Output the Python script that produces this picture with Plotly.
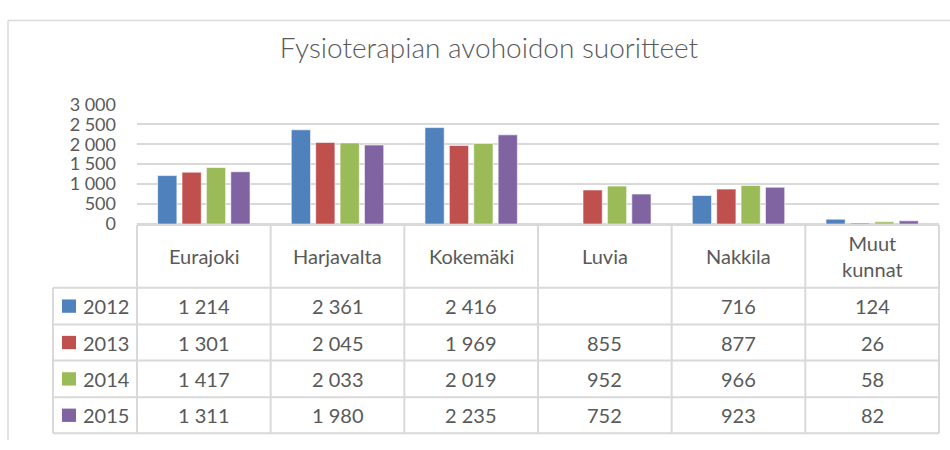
import plotly.graph_objects as go

categories = ["Eurajoki", "Harjavalta", "Kokemäki", "Luvia", "Nakkila", "Muut kunnat"]
category_labels = ["Eurajoki", "Harjavalta", "Kokemäki", "Luvia", "Nakkila", "Muut<br>kunnat"]
years = ["2012", "2013", "2014", "2015"]
v2012 = [1214, 2361, 2416, None, 716, 124]
v2013 = [1301, 2045, 1969, 855, 877, 26]
v2014 = [1417, 2033, 2019, 952, 966, 58]
v2015 = [1311, 1980, 2235, 752, 923, 82]
series = [v2012, v2013, v2014, v2015]
colors = ["#4F81BD", "#C0504D", "#9BBB59", "#8064A2"]
yticks = [0, 500, 1000, 1500, 2000, 2500, 3000]

W, H = 950, 450
FONT = "Lato"
TXT = "#595959"
GRID = "#D9D9D9"

def px(x):
    return x / W

def py(y):
    return 1 - y / H

def fmt(v):
    return "" if v is None else f"{v:,}".replace(",", " ")

x0, x1 = 137, 939
y_zero, y_top = 223, 97
col_w = (x1 - x0) / len(categories)
rows_y = [290, 328.5, 366.5, 405, 443]
leg_x = 53

fig = go.Figure()
for name, vals, c in zip(years, series, colors):
    fig.add_trace(go.Bar(x=categories, y=vals, name=name, marker_color=c,
                         marker_line=dict(color="rgba(255,255,255,0.6)", width=1),
                         showlegend=False))

shapes = []
line = dict(color=GRID, width=2)
# outer chart border
shapes.append(dict(type="line", xref="paper", yref="paper", x0=px(8), x1=px(950), y0=py(9), y1=py(9),
                   line=dict(color=GRID, width=1.5)))
shapes.append(dict(type="line", xref="paper", yref="paper", x0=px(8), x1=px(8), y0=py(9), y1=py(450),
                   line=dict(color=GRID, width=1.5)))
# table horizontal lines
shapes.append(dict(type="line", xref="paper", yref="paper", x0=px(x0), x1=px(x1), y0=py(y_zero + 1), y1=py(y_zero + 1), line=line))
for ry in rows_y:
    shapes.append(dict(type="line", xref="paper", yref="paper", x0=px(leg_x), x1=px(x1), y0=py(ry), y1=py(ry), line=line))
# vertical lines
shapes.append(dict(type="line", xref="paper", yref="paper", x0=px(leg_x), x1=px(leg_x), y0=py(rows_y[0]), y1=py(rows_y[-1]), line=line))
for i in range(len(categories) + 1):
    xx = x0 + i * col_w
    shapes.append(dict(type="line", xref="paper", yref="paper", x0=px(xx), x1=px(xx), y0=py(y_zero + 1), y1=py(rows_y[-1]), line=line))

annotations = []
# header labels
for i, lab in enumerate(category_labels):
    cx = x0 + (i + 0.5) * col_w
    annotations.append(dict(xref="paper", yref="paper", x=px(cx), y=py((y_zero + rows_y[0]) / 2),
                            text=lab, showarrow=False, xanchor="center", yanchor="middle",
                            font=dict(family=FONT, size=20, color=TXT)))
# rows
for r, (name, vals, c) in enumerate(zip(years, series, colors)):
    cy = (rows_y[r] + rows_y[r + 1]) / 2
    shapes.append(dict(type="rect", xref="paper", yref="paper", x0=px(62), x1=px(76), y0=py(cy - 7), y1=py(cy + 7),
                       fillcolor=c, line=dict(width=0)))
    annotations.append(dict(xref="paper", yref="paper", x=px(81), y=py(cy), text=name, showarrow=False,
                            xanchor="left", yanchor="middle", font=dict(family=FONT, size=20, color=TXT)))
    for i, v in enumerate(vals):
        cx = x0 + (i + 0.5) * col_w
        annotations.append(dict(xref="paper", yref="paper", x=px(cx), y=py(cy), text=fmt(v), showarrow=False,
                                xanchor="center", yanchor="middle", font=dict(family=FONT, size=20, color=TXT)))

fig.update_layout(
    width=W, height=H,
    margin=dict(l=0, r=0, t=0, b=0),
    paper_bgcolor="white", plot_bgcolor="white",
    separators=", ",
    barmode="group", bargap=0.27, bargroupgap=0.21,
    title=dict(text="Fysioterapian avohoidon suoritteet", x=px(489), y=py(48), xanchor="center", yanchor="middle",
               font=dict(family=FONT, size=28, color=TXT, weight=300)),
    xaxis=dict(domain=[px(x0), px(x1)], range=[-0.5, 5.5], showticklabels=False, showgrid=False,
               showline=False, ticks="", zeroline=False),
    yaxis=dict(domain=[py(y_zero), py(y_top)], range=[0, 3000], tickvals=yticks, tickformat=",d",
               showgrid=True, gridcolor=GRID, gridwidth=2, zeroline=True, zerolinecolor=GRID, zerolinewidth=2,
               showline=False, ticks="", ticklabelstandoff=20,
               tickfont=dict(family=FONT, size=18, color=TXT)),
    shapes=shapes, annotations=annotations,
)

fig.write_html("out.html", config={"displayModeBar": False},
               post_script="document.body.style.margin='0';document.body.style.overflow='hidden';")
